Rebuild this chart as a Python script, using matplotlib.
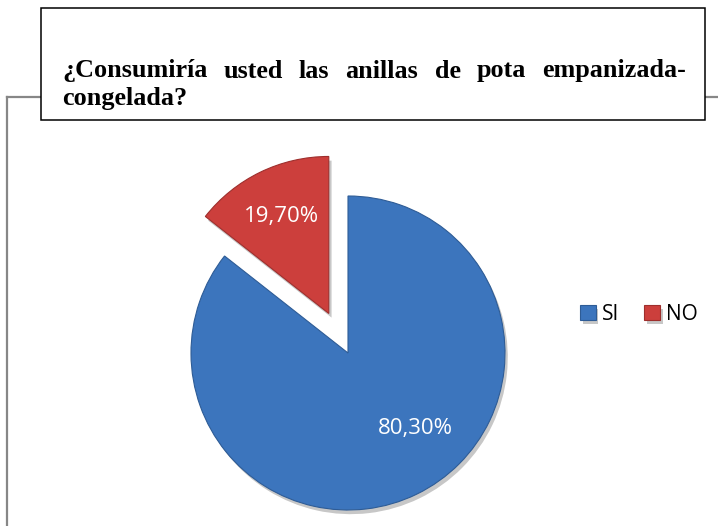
import numpy as np
import matplotlib
matplotlib.use('Agg')
import matplotlib.pyplot as plt
import matplotlib.patheffects as pe
from matplotlib.lines import Line2D
from matplotlib.patches import Rectangle

# --- Datos ---
categorias = ['SI', 'NO']
etiquetas_pct = ['80,30%', '19,70%']
# porcion dibujada de cada sector (medida sobre la imagen)
porciones = [85.6, 14.4]
colores = ['#3C75BD', '#CC3F3C']
bordes = ['#2E5C96', '#9E2F2D']
titulo_l1 = '¿Consumiría usted las anillas de pota empanizada-'
titulo_l2 = 'congelada?'

W, H = 718, 526
fig = plt.figure(figsize=(W / 100, H / 100), dpi=100)
fig.patch.set_facecolor('white')


def px(x, y):
    # pixeles (origen arriba-izquierda) -> fraccion de figura
    return x / W, 1 - y / H


# marco gris del area del grafico
gris = '#878787'
fig.add_artist(Line2D([px(7, 0)[0], px(718, 0)[0]], [px(0, 97)[1]] * 2,
                      color=gris, lw=1.6, transform=fig.transFigure, zorder=1))
fig.add_artist(Line2D([px(7, 0)[0]] * 2, [px(0, 97)[1], px(0, 526)[1]],
                      color=gris, lw=1.6, transform=fig.transFigure, zorder=1))

# cuadro del titulo
x0, y0 = px(40.5, 120)
x1, y1 = px(705, 8)
fig.add_artist(Rectangle((x0, y0), x1 - x0, y1 - y0, transform=fig.transFigure,
                         facecolor='white', edgecolor='black', lw=1.1, zorder=3))

# --- Grafico circular ---
R_PX = 157
HALF = 220
cx, cy = 348, 353
ax = fig.add_axes([(cx - HALF) / W, (H - cy - HALF) / H, 2 * HALF / W, 2 * HALF / H])
lim = HALF / R_PX

explode = [0, 0.28]
wedges, _ = ax.pie(porciones, colors=colores, startangle=90, counterclock=False,
                   explode=explode, radius=1)
for w, b in zip(wedges, bordes):
    w.set_edgecolor(b)
    w.set_linewidth(0.8)
    w.set_path_effects([pe.SimplePatchShadow(offset=(2, -3), alpha=0.22, shadow_rgbFace='black'),
                        pe.Normal()])

# etiquetas de porcentaje
pos_si = 0.645 * np.array([np.cos(np.radians(-48.6)), np.sin(np.radians(-48.6))])
w_no = wedges[1]
mid = np.radians((w_no.theta1 + w_no.theta2) / 2)
c_no = np.array(w_no.center)
pos_no = c_no + 0.69 * np.array([np.cos(mid), np.sin(mid)])
for pos, txt in zip([pos_si, pos_no], etiquetas_pct):
    ax.text(pos[0], pos[1], txt, ha='center', va='center', color='white',
            fontsize=16, family='Open Sans')

ax.set_xlim(-lim, lim)
ax.set_ylim(-lim, lim)
ax.set_aspect('auto')
ax.axis('off')

# leyenda
fig.legend(wedges, categorias, loc='center left', bbox_to_anchor=px(580, 314),
           ncol=2, frameon=False, handlelength=0.75, handleheight=0.75,
           handletextpad=0.3, columnspacing=1.2, borderaxespad=0, borderpad=0,
           prop={'family': 'Open Sans', 'size': 15})

# titulo justificado (Times -> Liberation Serif)
fuente = dict(family='Liberation Serif', weight='bold', size=18.8, color='black', zorder=4)
fig.canvas.draw()
rend = fig.canvas.get_renderer()
palabras = titulo_l1.split(' ')
objs = [fig.text(0, 0, p, transform=None, **fuente) for p in palabras]
anchos = [o.get_window_extent(rend).width for o in objs]
izq, der = 62, 686
hueco = (der - izq - sum(anchos)) / (len(palabras) - 1)
x = izq
for o, a in zip(objs, anchos):
    o.set_transform(fig.transFigure)
    o.set_position(px(x, 77.5))
    o.set_va('baseline')
    x += a + hueco
fig.text(*px(izq, 105), titulo_l2, va='baseline', ha='left', **fuente)

fig.savefig('out.png', dpi=100)
